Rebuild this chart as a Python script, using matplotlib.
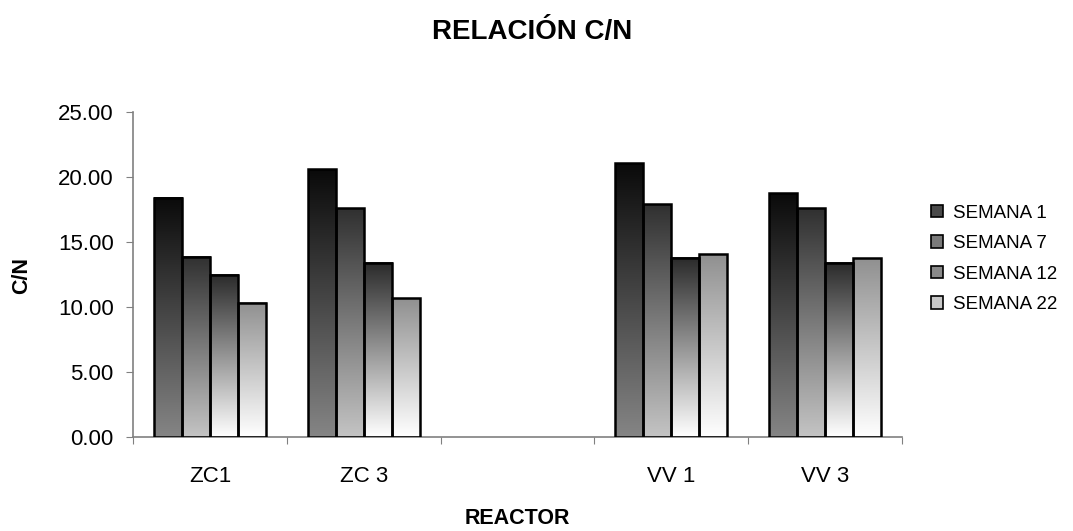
import numpy as np
import matplotlib
matplotlib.use("Agg")
import matplotlib.pyplot as plt
from matplotlib.colors import LinearSegmentedColormap
from matplotlib.patches import Rectangle

plt.rcParams['font.family'] = ['Liberation Sans', 'DejaVu Sans']

categories = ["ZC1", "ZC 3", "", "VV 1", "VV 3"]
series_names = ["SEMANA 1", "SEMANA 7", "SEMANA 12", "SEMANA 22"]
semana1 = [18.4, 20.6, np.nan, 21.05, 18.75]
semana7 = [13.87, 17.6, np.nan, 17.9, 17.6]
semana12 = [12.5, 13.4, np.nan, 13.8, 13.4]
semana22 = [10.33, 10.67, np.nan, 14.05, 13.75]
yticks = [0, 5, 10, 15, 20, 25]

series = [semana1, semana7, semana12, semana22]
# gradient (top colour, bottom colour) per series
grads = [("#0a0a0a", "#858585"), ("#303030", "#c4c4c4"),
         ("#2a2a2a", "#ffffff"), ("#909090", "#ffffff")]
legend_cols = ["#4a4a4a", "#7a7a7a", "#8a8a8a", "#c8c8c8"]

fig = plt.figure(figsize=(10.73, 5.31), dpi=100)
ax = fig.add_axes([133/1073, 1-437/531, (902-133)/1073, (437-112)/531])

n = len(series)
group_w = 0.73
bw = group_w / n
x = np.arange(len(categories))
grad_img = np.linspace(0, 1, 256).reshape(-1, 1)

for i, (vals, (ctop, cbot)) in enumerate(zip(series, grads)):
    cmap = LinearSegmentedColormap.from_list(f"g{i}", [cbot, ctop])
    offs = x - group_w/2 + i*bw
    for xi, v in zip(offs, vals):
        if np.isnan(v):
            continue
        ax.imshow(grad_img, cmap=cmap, aspect='auto',
                  extent=(xi, xi+bw, 0, v), origin='lower', zorder=2,
                  vmin=0, vmax=1)
        ax.add_patch(Rectangle((xi, 0), bw, v, fill=False, edgecolor='black',
                               linewidth=1.8, zorder=3))

ax.set_xlim(-0.5, len(categories)-0.5)
ax.set_ylim(0, 25)
ax.set_yticks(yticks)
ax.set_yticklabels([f"{t:.2f}" for t in yticks], fontsize=16)
ax.set_xticks(np.arange(len(categories)+1)-0.5)
ax.set_xticklabels([])
ax.set_xticks(x, minor=True)
ax.set_xticklabels(categories, minor=True, fontsize=16)
ax.tick_params(axis='x', which='minor', length=0, pad=21)
ax.tick_params(axis='x', which='major', length=5, color='#808080', direction='out')
ax.tick_params(axis='y', length=5, color='#808080', direction='out', pad=9)
for s in ['top', 'right']:
    ax.spines[s].set_visible(False)
for s in ['left', 'bottom']:
    ax.spines[s].set_color('#808080')
    ax.spines[s].set_linewidth(1.2)

fig.text(532/1073, 1-32/531, "RELACIÓN C/N", ha='center', va='center',
         fontsize=20, fontweight='bold')
fig.text(517/1073, 1-518/531, "REACTOR", ha='center', va='center',
         fontsize=15.5, fontweight='bold')
fig.text(22/1073, 1-275/531, "C/N", ha='center', va='center', rotation=90,
         fontsize=15.5, fontweight='bold')

handles = [Rectangle((0, 0), 1, 1, facecolor=c, edgecolor='black', linewidth=1.2)
           for c in legend_cols]
fig.legend(handles, series_names, loc='center left',
           bbox_to_anchor=(914/1073, 1-259/531), frameon=False, fontsize=13.5,
           handlelength=0.65, handleheight=0.65, handletextpad=0.55,
           labelspacing=0.72)

fig.savefig("out.png", dpi=100)
